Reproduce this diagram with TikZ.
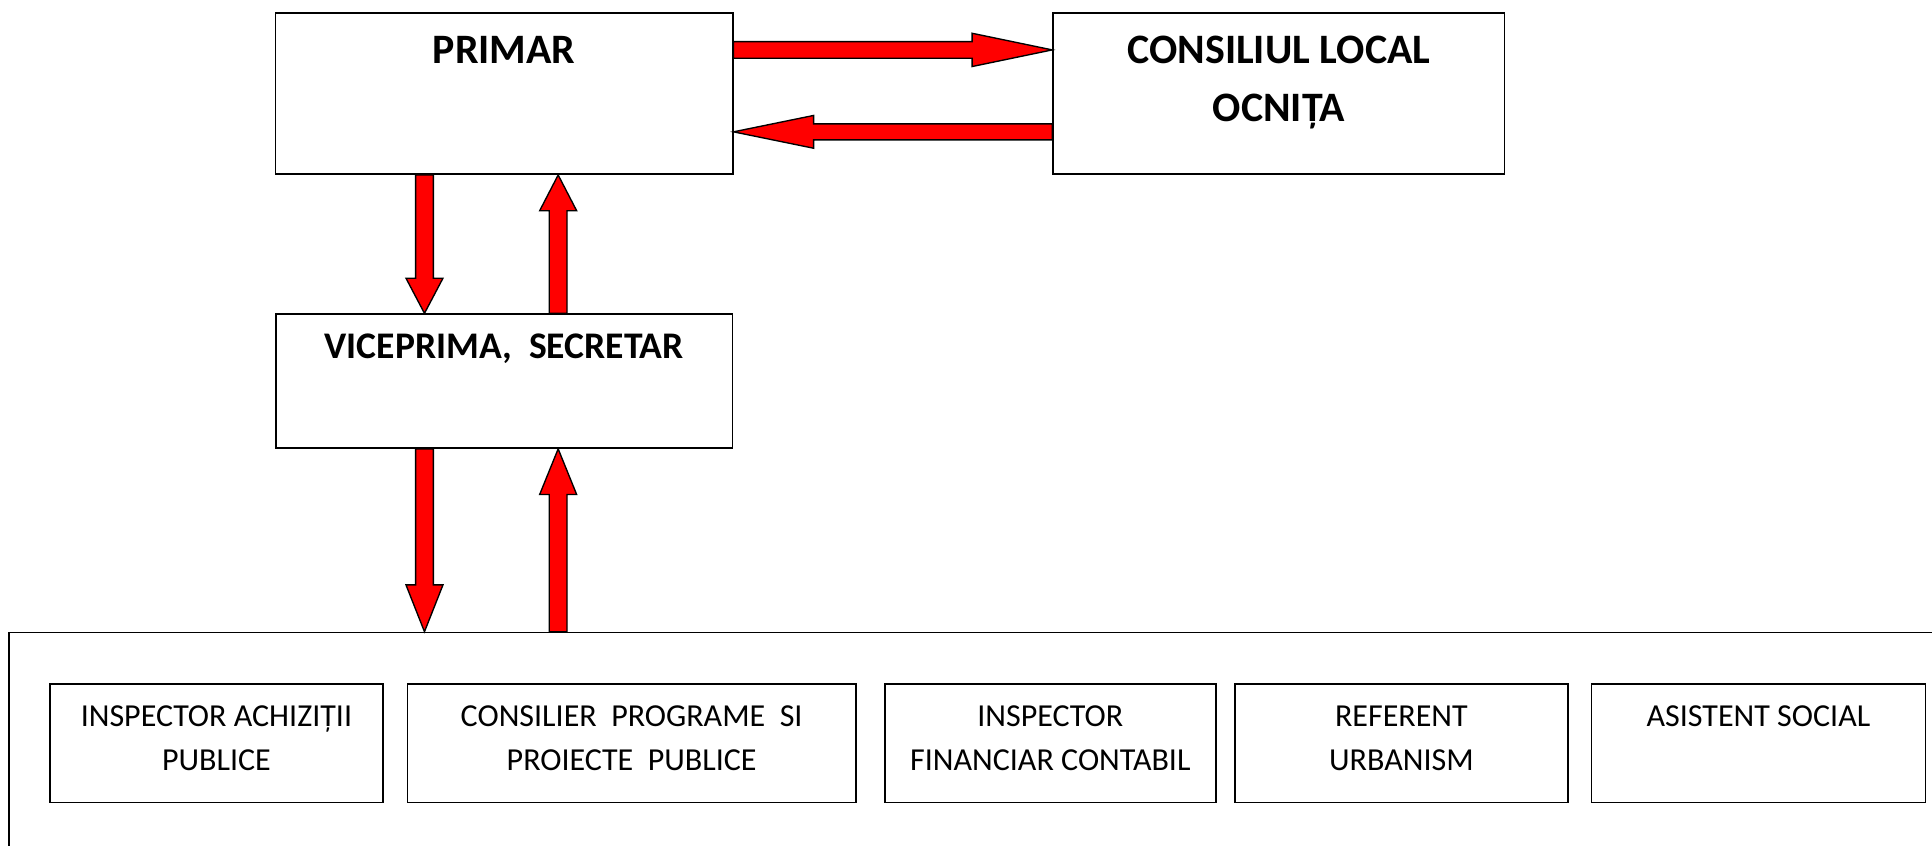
\documentclass[tikz,border=0pt]{standalone}
\usepackage{fontspec}
\setmainfont{Carlito}
\usetikzlibrary{calc}
\tikzset{
  box/.style={draw=black, line width=1.3pt, fill=white, inner sep=0pt, anchor=north west},
  blockarr/.style={draw=black, line width=1.1pt, fill=red, line join=miter},
  bigtxt/.style={font=\fontsize{34}{40}\selectfont\bfseries, inner sep=0pt, anchor=base},
  vicetxt/.style={font=\fontsize{30.5}{36}\selectfont\bfseries, inner sep=0pt, anchor=base},
  smalltxt/.style={font=\fontsize{26}{30}\selectfont, inner sep=0pt, anchor=base},
}
% #1 start, #2 end (tip), #3 shaft half width, #4 head half width, #5 head length
\newcommand\blockarrow[5]{%
  \path (#1) coordinate (ba-s) (#2) coordinate (ba-e);
  \path ($(ba-e)!#5!(ba-s)$) coordinate (ba-h);
  \draw[blockarr] ($(ba-s)!#3!90:(ba-e)$) -- ($(ba-h)!#3!90:(ba-e)$)
    -- ($(ba-h)!#4!90:(ba-e)$) -- (ba-e) -- ($(ba-h)!#4!-90:(ba-e)$)
    -- ($(ba-h)!#3!-90:(ba-e)$) -- ($(ba-s)!#3!-90:(ba-e)$) -- cycle;}
\begin{document}
\begin{tikzpicture}[x=1pt,y=-1pt]
\useasboundingbox (0,0) rectangle (1568,686);
\begin{scope}
  \clip (0,0) rectangle (1568,686);
  \node[box, minimum width=1620pt, minimum height=240pt] (staff) at (6.5,512.7) {};
\end{scope}

% top boxes
\node[box, minimum width=371pt, minimum height=131pt] (primar) at (223,9.7) {};
\node[box, minimum width=366.5pt, minimum height=131pt] (consiliu) at (854,9.7) {};
\node[box, minimum width=370.6pt, minimum height=108.7pt] (vice) at (223.2,254.3) {};

% inner boxes
\node[box, minimum width=270pt, minimum height=96pt] (ach) at (40,554.6) {};
\node[box, minimum width=364pt, minimum height=96pt] (prog) at (330,554.6) {};
\node[box, minimum width=268.5pt, minimum height=96pt] (fin) at (717.5,554.6) {};
\node[box, minimum width=270pt, minimum height=96pt] (urb) at (1001.7,554.6) {};
\node[box, minimum width=271pt, minimum height=96pt] (soc) at (1291,554.6) {};

% texts
\node[bigtxt] (primar-t) at (primar.center |- 0,51.4) {PRIMAR};
\node[bigtxt] (consiliu-t1) at (consiliu.center |- 0,51.4) {CONSILIUL LOCAL};
\node[bigtxt] (consiliu-t2) at (consiliu.center |- 0,99) {OCNIȚA};
\node[vicetxt] (vice-t) at (vice.center |- 0,291) {VICEPRIMA,\ \ SECRETAR};

\node[smalltxt] (ach-t1) at (ach.center |- 0,589.5) {INSPECTOR ACHIZIȚII};
\node[smalltxt] (ach-t2) at (ach.center |- 0,625.5) {PUBLICE};
\node[smalltxt] (prog-t1) at (prog.center |- 0,589.5) {CONSILIER\ \ PROGRAME\ \ SI};
\node[smalltxt] (prog-t2) at (prog.center |- 0,625.5) {PROIECTE\ \ PUBLICE};
\node[smalltxt] (fin-t1) at (fin.center |- 0,589.5) {INSPECTOR};
\node[smalltxt] (fin-t2) at (fin.center |- 0,625.5) {FINANCIAR CONTABIL};
\node[smalltxt] (urb-t1) at (urb.center |- 0,589.5) {REFERENT};
\node[smalltxt] (urb-t2) at (urb.center |- 0,625.5) {URBANISM};
\node[smalltxt] (soc-t1) at (soc.center |- 0,589.5) {ASISTENT SOCIAL};

% arrows
\blockarrow{primar.east |- 0,40.5}{consiliu.west |- 0,40.5}{6.75pt}{13.5pt}{65pt}
\blockarrow{consiliu.west |- 0,107}{primar.east |- 0,107}{6.5pt}{13.3pt}{65pt}
\blockarrow{344.5,0 |- primar.south}{344.5,0 |- vice.north}{7.2pt}{15pt}{28.5pt}
\blockarrow{453,0 |- vice.north}{453,0 |- primar.south}{7.2pt}{15pt}{29pt}
\blockarrow{344.5,0 |- vice.south}{344.5,0 |- staff.north}{7.2pt}{15pt}{38pt}
\blockarrow{453,0 |- staff.north}{453,0 |- vice.south}{7.2pt}{15pt}{37pt}
\end{tikzpicture}
\end{document}
